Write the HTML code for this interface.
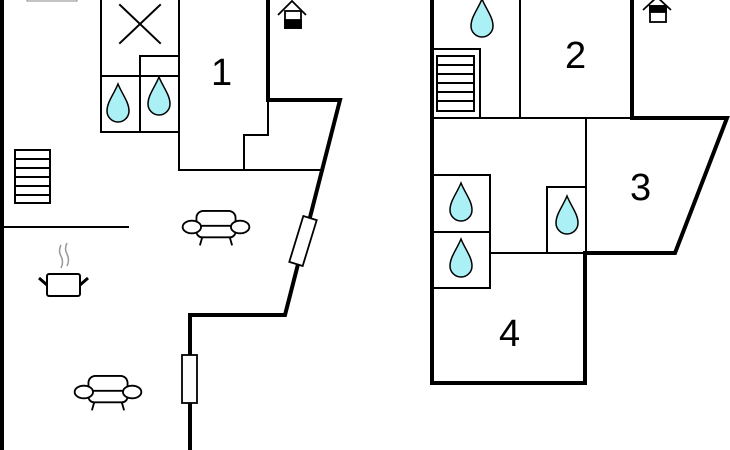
<!DOCTYPE html>
<html><head><meta charset="utf-8"><style>
html,body{margin:0;padding:0;background:#fff;}
svg{display:block;}
text{font-family:"Liberation Sans",sans-serif;font-size:38px;fill:#000;}
</style></head><body>
<svg width="730" height="450" viewBox="0 0 730 450" xmlns="http://www.w3.org/2000/svg">
<defs>
<path id="drop" d="M0,-20 C4,-10 11,-2 11,7 A11,11 0 0 1 -11,7 C-11,-2 -4,-10 0,-20 Z" fill="#aaf0f5" stroke="#000" stroke-width="1.5"/>
<g id="sofa" fill="#fff" stroke="#000" stroke-width="1.6">
<rect x="-17" y="-14" width="34" height="14" rx="6"/>
<rect x="-17" y="-1" width="34" height="10" rx="5"/>
<ellipse cx="-21" cy="0" rx="8" ry="5.5"/>
<ellipse cx="21" cy="0" rx="8" ry="5.5"/>
<line x1="-12" y1="9" x2="-14" y2="16"/>
<line x1="12" y1="9" x2="14" y2="16"/>
</g>
</defs>
<g fill="none" stroke="#000" stroke-linecap="square">
<g stroke-width="2">
<rect x="27" y="-2" width="50" height="3" stroke="#888" stroke-width="1"/>
<rect x="101" y="-2" width="78" height="78"/>
<line x1="120" y1="5" x2="160" y2="43"/>
<line x1="160" y1="5" x2="120" y2="43"/>
<rect x="101" y="76" width="39" height="56"/>
<rect x="140" y="56" width="39" height="76"/>
<line x1="179" y1="0" x2="179" y2="170"/>
<line x1="179" y1="170" x2="320" y2="170"/>
<polyline points="268,100 268,135 244,135 244,170"/>
<line x1="3" y1="227" x2="128" y2="227"/>
<rect x="15" y="150" width="35" height="53"/>
<line x1="15" y1="159" x2="50" y2="159"/>
<line x1="15" y1="168" x2="50" y2="168"/>
<line x1="15" y1="177" x2="50" y2="177"/>
<line x1="15" y1="186" x2="50" y2="186"/>
<line x1="15" y1="195" x2="50" y2="195"/>
</g>
<g stroke-width="4">
<line x1="2" y1="0" x2="2" y2="450"/>
<polyline points="268,0 268,100 340,100 285,315 190,315 190,450"/>
</g>
<g stroke-width="2">
<line x1="520" y1="0" x2="520" y2="118"/>
<line x1="432" y1="118" x2="632" y2="118"/>
<line x1="586" y1="118" x2="586" y2="253"/>
<rect x="432" y="49" width="48" height="69"/>
<rect x="437" y="56" width="37" height="55"/>
<line x1="437" y1="65" x2="474" y2="65"/>
<line x1="437" y1="74" x2="474" y2="74"/>
<line x1="437" y1="83" x2="474" y2="83"/>
<line x1="437" y1="92" x2="474" y2="92"/>
<line x1="437" y1="101" x2="474" y2="101"/>
<rect x="432" y="175" width="58" height="57"/>
<rect x="432" y="232" width="58" height="56"/>
<line x1="490" y1="253" x2="585" y2="253"/>
<rect x="547" y="187" width="39" height="66"/>
</g>
<g stroke-width="4">
<polyline points="432,0 432,383 585,383 585,253 675,253 727,118 632,118 632,0"/>
</g>
</g>
<rect x="-7" y="-24" width="14" height="48" fill="#fff" stroke="#000" stroke-width="1.8" transform="translate(303,241) rotate(17)"/>
<rect x="182" y="355" width="15" height="48" fill="#fff" stroke="#000" stroke-width="1.8"/>
<use href="#drop" x="118" y="104"/>
<use href="#drop" x="159" y="97"/>
<use href="#drop" x="482" y="19"/>
<use href="#drop" x="461" y="203"/>
<use href="#drop" x="461" y="259"/>
<use href="#drop" x="567" y="216"/>
<g transform="translate(216,227) scale(1.15)"><use href="#sofa"/></g>
<g transform="translate(108,392) scale(1.15)"><use href="#sofa"/></g>
<g stroke="#000" fill="none">
<path d="M61,245 q-3,6 0,11 q3,6 0,12" stroke="#999" stroke-width="1.5"/>
<path d="M67,243 q-3,6 0,11 q3,6 0,12" stroke="#999" stroke-width="1.5"/>
<rect x="47" y="274" width="33" height="22" rx="2" stroke-width="2"/>
<line x1="39" y1="278" x2="47" y2="285" stroke-width="3"/>
<line x1="80" y1="285" x2="88" y2="278" stroke-width="3"/>
</g>
<g stroke="#000" fill="none" stroke-width="1.8">
<polyline points="278,15 292,1 306,15"/>
<rect x="285" y="11" width="16" height="17" fill="#fff"/>
<rect x="285" y="20" width="16" height="8" fill="#000"/>
<polyline points="643,10 657,-3 671,10"/>
<rect x="650" y="6" width="16" height="16" fill="#fff"/>
<rect x="650" y="6" width="16" height="6" fill="#000"/>
</g>
<text x="211" y="85">1</text>
<text x="565" y="68">2</text>
<text x="630" y="200">3</text>
<text x="499" y="346">4</text>
</svg>
</body></html>
